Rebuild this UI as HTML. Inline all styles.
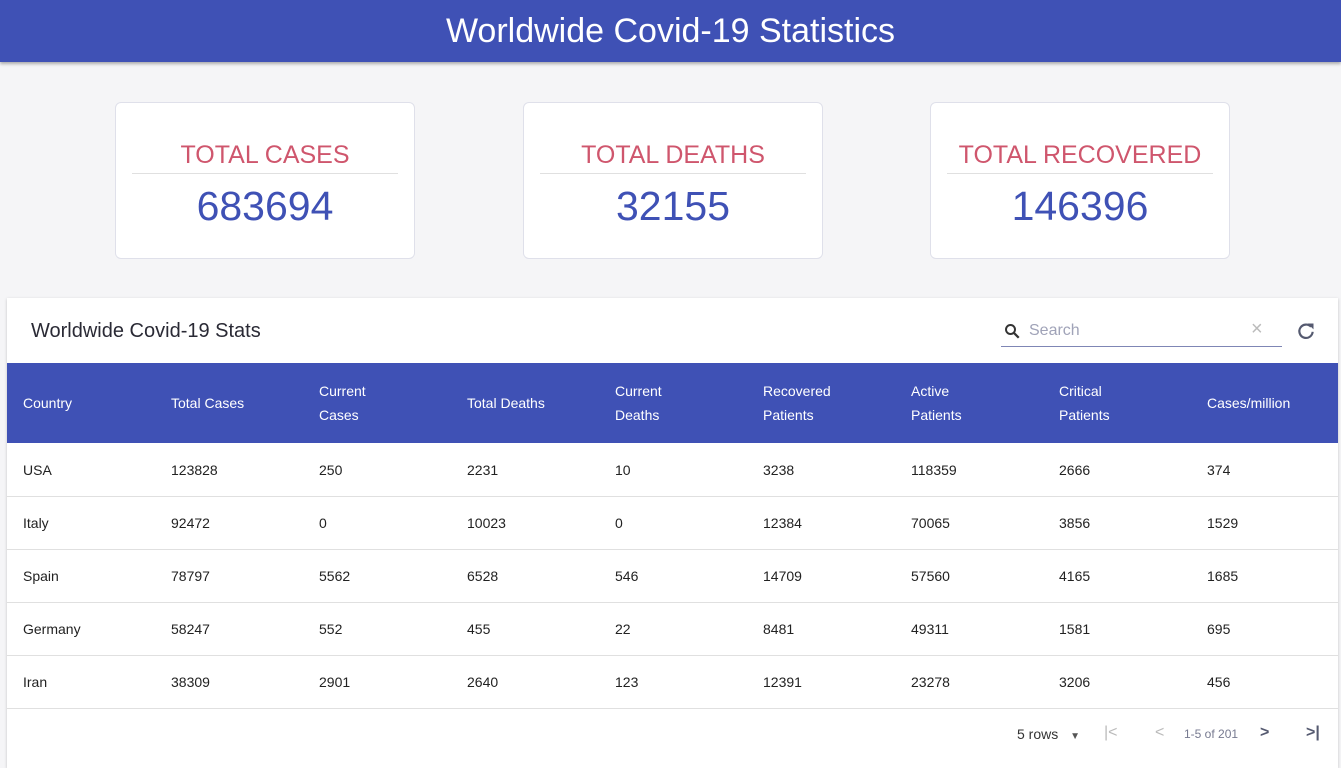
<!DOCTYPE html>
<html><head><meta charset="utf-8"><style>
*{box-sizing:border-box;margin:0;padding:0}
body{width:1341px;height:761px;overflow:hidden;background:#f5f5f7;font-family:"Liberation Sans",sans-serif;position:relative}
.hdr{position:absolute;left:0;top:0;width:1341px;height:62px;background:#3f51b5;color:#fff;font-size:34px;text-align:center;line-height:62px;box-shadow:0 2px 3px rgba(0,0,0,.3)}
.card{position:absolute;top:102px;width:300px;height:157px;background:#fff;border:1px solid #dfe0ea;border-radius:6px;text-align:center}
.card .t{position:absolute;left:16px;right:16px;top:38px;height:33px;border-bottom:1px solid #e0e0e0;color:#cf566d;font-size:25px}
.card .v{position:absolute;left:0;right:0;top:80px;color:#3f51b5;font-size:41px}
.panel{position:absolute;left:7px;top:298px;width:1331px;height:470px;background:#fff;box-shadow:0 1px 3px rgba(0,0,0,.2)}
.ttl{position:absolute;left:24px;top:22px;font-size:20px;color:#2a2a35}
.search{position:absolute;left:994px;top:18px;width:281px;height:31px;border-bottom:1px solid #7f86b5}
.thead{position:absolute;left:0;top:65px;width:1331px;height:80px;background:#3f51b5;color:#fff;font-size:14px}
.cell{position:absolute;line-height:24px}
.row{position:absolute;left:0;width:1331px;height:53px;border-bottom:1px solid #e0e0e0;font-size:14px;color:#222}
.row .cell{top:14px}
.foot{position:absolute;top:428px;font-size:14px;color:#333}
</style></head><body>
<div class="hdr">Worldwide Covid-19 Statistics</div>
<div class="card" style="left:115px"><div class="t">TOTAL CASES</div><div class="v">683694</div></div>
<div class="card" style="left:523px"><div class="t">TOTAL DEATHS</div><div class="v">32155</div></div>
<div class="card" style="left:930px"><div class="t">TOTAL RECOVERED</div><div class="v">146396</div></div>
<div class="panel">
<div class="ttl">Worldwide Covid-19 Stats</div>
<div class="search">
<svg style="position:absolute;left:2px;top:6px" width="18" height="18" viewBox="0 0 24 24"><circle cx="10" cy="10" r="6" fill="none" stroke="#333" stroke-width="2.6"/><line x1="14.5" y1="14.5" x2="21" y2="21" stroke="#333" stroke-width="3"/></svg>
<span style="position:absolute;left:28px;top:6px;font-size:16px;color:#a0a3b8">Search</span>
<span style="position:absolute;left:250px;top:2px;font-size:20px;color:#bbb">×</span>
</div>
<svg style="position:absolute;left:1289px;top:23px" width="20" height="20" viewBox="0 0 24 24"><path d="M18 7A8 8 0 1 0 20 13" fill="none" stroke="#555a70" stroke-width="2.6"/><path d="M14 3h7v7z" fill="#555a70"/></svg>
<div class="thead">
<div class="cell" style="left:16px;top:28px">Country</div>
<div class="cell" style="left:164px;top:28px">Total Cases</div>
<div class="cell" style="left:312px;top:16px">Current<br>Cases</div>
<div class="cell" style="left:460px;top:28px">Total Deaths</div>
<div class="cell" style="left:608px;top:16px">Current<br>Deaths</div>
<div class="cell" style="left:756px;top:16px">Recovered<br>Patients</div>
<div class="cell" style="left:904px;top:16px">Active<br>Patients</div>
<div class="cell" style="left:1052px;top:16px">Critical<br>Patients</div>
<div class="cell" style="left:1200px;top:28px">Cases/million</div>
</div>
<div id="rows"></div>
<div class="foot" style="left:1010px">5 rows <span style="font-size:10px;color:#555;margin-left:8px">▼</span></div>
<div class="foot" style="left:1097px;color:#bbb;font-size:16px;top:426px">|&lt;</div>
<div class="foot" style="left:1148px;color:#bbb;font-size:16px;top:426px">&lt;</div>
<div class="foot" style="left:1177px;color:#777a90;font-size:12px;top:429px">1-5 of 201</div>
<div class="foot" style="left:1253px;color:#555a70;font-size:16px;top:426px;font-weight:bold">&gt;</div>
<div class="foot" style="left:1299px;color:#555a70;font-size:16px;top:426px;font-weight:bold">&gt;|</div>
</div>
<script>
const countries=["USA","Italy","Spain","Germany","Iran"];
const totalCases=[123828,92472,78797,58247,38309];
const currentCases=[250,0,5562,552,2901];
const totalDeaths=[2231,10023,6528,455,2640];
const currentDeaths=[10,0,546,22,123];
const recovered=[3238,12384,14709,8481,12391];
const active=[118359,70065,57560,49311,23278];
const critical=[2666,3856,4165,1581,3206];
const perMillion=[374,1529,1685,695,456];
const cols=[countries,totalCases,currentCases,totalDeaths,currentDeaths,recovered,active,critical,perMillion];
const rows=document.getElementById('rows');
countries.forEach((c,i)=>{
  const r=document.createElement('div');
  r.className='row';
  r.style.top=(146+i*53)+'px';
  
  
  cols.forEach((arr,j)=>{
    const d=document.createElement('div');
    d.className='cell';
    d.style.left=(16+j*148)+'px';
    d.textContent=arr[i];
    
    
    r.appendChild(d);
  });
  rows.appendChild(r);
});
</script>
</body></html>
